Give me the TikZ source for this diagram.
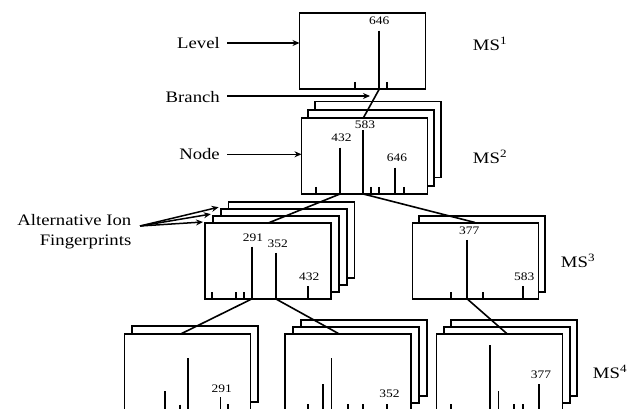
\documentclass[tikz,border=0pt]{standalone}
\usepackage{fontspec}
\setmainfont{Liberation Serif}[FakeStretch=1.17]
\usetikzlibrary{arrows.meta}
\tikzset{
  specrect/.style={draw, line width=1.8pt, fill=white, minimum width=126pt, minimum height=76pt, inner sep=0pt, outer sep=0pt},
  peak/.style={line width=1.7pt},
  conn/.style={line width=1.6pt},
  lbl/.style={font=\fontsize{16}{20}\selectfont, inner sep=0pt},
  num/.style={font=\fontsize{11.5}{13}\selectfont, inner sep=0pt},
  arr/.style={line width=1.5pt, -{Stealth[length=7pt,width=6pt]}}
}
\newcommand\specbox[3]{\node[specrect] (#1) at ({#2+63},{#3+38}) {};}
\newcommand\pk[3]{\draw[peak] (#1,#2) -- (#1,#3);}
\begin{document}
\begin{tikzpicture}[x=1pt,y=-1pt]
\useasboundingbox (0,0) rectangle (630,409);
\clip (0,0) rectangle (630,409);
% ---------- MS1 ----------
\specbox{ms1}{299.5}{13}
\pk{379.3}{30.7}{89}
\pk{355}{82}{89}
\pk{387}{82}{89}
\node[num] (n646a) at (379.3,21) {646};
% ---------- MS2 ----------
\specbox{ms2c}{314.9}{101.6}
\specbox{ms2b}{308.2}{109.8}
\specbox{ms2a}{301.5}{118}
\pk{340}{147.7}{194}
\pk{363.3}{130}{194}
\pk{395.3}{167.7}{194}
\pk{315.7}{187}{194}
\pk{371}{187}{194}
\pk{379.3}{187}{194}
\pk{404}{187}{194}
\node[num] (n432a) at (341.5,138) {432};
\node[num] (n583a) at (365,124.5) {583};
\node[num] (n646b) at (397,158) {646};
% ---------- MS3 left ----------
\specbox{ms3d}{228.4}{202.3}
\specbox{ms3c}{220.6}{209.2}
\specbox{ms3b}{212.8}{216.1}
\specbox{ms3a}{205}{223}
\pk{251.7}{246.7}{299}
\pk{276}{253}{299}
\pk{307.7}{286}{299}
\pk{212.3}{292}{299}
\pk{236}{292}{299}
\pk{244}{292}{299}
\node[num] (n291a) at (253,237.7) {291};
\node[num] (n352a) at (277.7,243.3) {352};
\node[num] (n432b) at (309.3,276.7) {432};
% ---------- MS3 right ----------
\specbox{ms3f}{419.2}{216.3}
\specbox{ms3e}{412.5}{223}
\pk{467.3}{240}{299}
\pk{523.3}{286}{299}
\pk{450.7}{292}{299}
\pk{483.3}{292}{299}
\node[num] (n377a) at (469.3,231) {377};
\node[num] (n583b) at (524.3,276.7) {583};
% ---------- MS4 left ----------
\specbox{ms4b}{132.1}{325.7}
\specbox{ms4a}{124.5}{334}
\pk{164.7}{391}{412}
\pk{180}{404.5}{412}
\pk{188.3}{358.3}{412}
\pk{220.5}{397.3}{412}
\pk{228.3}{404.3}{412}
\node[num] (n291b) at (221.7,388.3) {291};
% ---------- MS4 middle ----------
\specbox{ms4e}{301}{320}
\specbox{ms4d}{293}{327}
\specbox{ms4c}{285}{334}
\pk{308.3}{404}{412}
\pk{323.3}{384.3}{412}
\pk{331.5}{358.3}{412}
\pk{348.3}{404}{412}
\pk{363.3}{404}{412}
\pk{387.3}{404}{412}
\node[num] (n352b) at (389.5,394) {352};
% ---------- MS4 right ----------
\specbox{ms4h}{450.9}{319.6}
\specbox{ms4g}{443.7}{326.8}
\specbox{ms4f}{436.5}{334}
\pk{450.7}{404}{412}
\pk{490.3}{345}{412}
\pk{498.6}{391}{412}
\pk{514.3}{404}{412}
\pk{522.7}{404}{412}
\pk{538.7}{384.3}{412}
\node[num] (n377b) at (541,375) {377};
% ---------- branches ----------
\coordinate (b1s) at (379.3,89);
\coordinate (b1t) at (363.3,118);
\coordinate (b2s) at (340,194);
\coordinate (b2t) at (268.3,223);
\coordinate (b3s) at (363.3,194);
\coordinate (b3t) at (475,222.5);
\coordinate (b4s) at (251.7,299);
\coordinate (b4t) at (180.7,334);
\coordinate (b5s) at (276,299);
\coordinate (b5t) at (339.3,334);
\coordinate (b6s) at (467.3,299);
\coordinate (b6t) at (507.3,334);
\draw[conn] (b1s) -- (b1t);
\draw[conn] (b2s) -- (b2t);
\draw[conn] (b3s) -- (b3t);
\draw[conn] (b4s) -- (b4t);
\draw[conn] (b5s) -- (b5t);
\draw[conn] (b6s) -- (b6t);
% ---------- left labels ----------
\node[lbl, anchor=east] (level) at (220,43) {Level};
\node[lbl, anchor=east] (branch) at (220,97) {Branch};
\node[lbl, anchor=east] (nodelbl) at (220,154.3) {Node};
\node[lbl, anchor=east, align=right] (alt) at (131.5,231.7) {Alternative Ion\\Fingerprints};
\coordinate (brt) at (370,96);
\draw[arr] (level.east) ++(7,0) coordinate (lvs) -- (ms1.west |- lvs);
\draw[arr] (branch.east) ++(7,-1) coordinate (brs) -- (brt);
\draw[arr] (nodelbl.east) ++(7,0) coordinate (nds) -- (ms2a.west |- nds);
\coordinate (alts) at (140,226);
\draw[arr] (alts) -- ([shift={(-2,-1)}]ms3a.north west);
\draw[arr] (alts) -- ([shift={(-2,-2)}]ms3b.north west);
\draw[arr] (alts) -- ([shift={(-2,-2)}]ms3c.north west);
% ---------- MS labels ----------
\node[lbl] (ms1l) at (490,44) {MS\textsuperscript{1}};
\node[lbl] (ms2l) at (490,157) {MS\textsuperscript{2}};
\node[lbl] (ms3l) at (578,261) {MS\textsuperscript{3}};
\node[lbl] (ms4l) at (610,372) {MS\textsuperscript{4}};
\end{tikzpicture}
\end{document}
